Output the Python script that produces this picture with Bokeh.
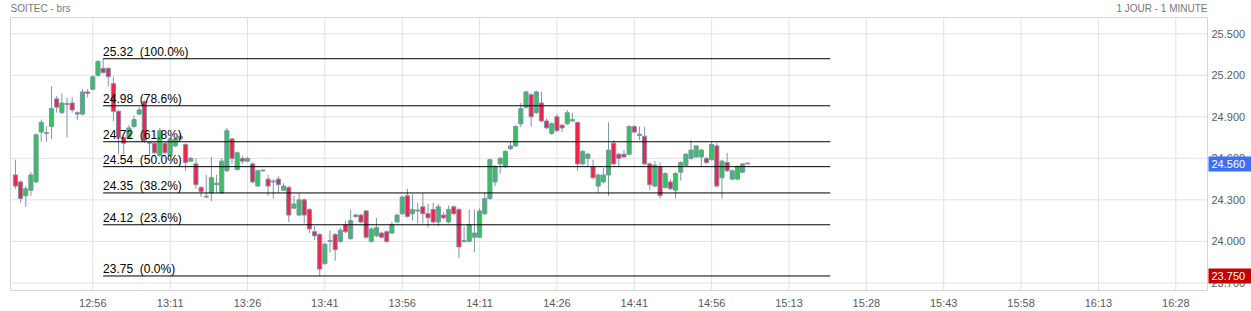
from bokeh.plotting import figure
from bokeh.models import ColumnDataSource
from bokeh.core.properties import value
from bokeh.embed import file_html
from bokeh.resources import INLINE

title_left = "SOITEC - brs"
title_right = "1 JOUR - 1 MINUTE"

# one-minute candles (index 0 = 12:41)
opens = [24.48, 24.43, 24.33, 24.37, 24.43, 24.79, 24.78, 24.83, 25.03, 24.93,
         24.99, 25.00, 24.93, 24.92, 25.08, 25.10, 25.20, 25.25, 25.25, 25.14,
         24.94, 24.75, 24.75, 24.83, 24.92, 25.01, 24.71, 24.71, 24.62, 24.71,
         24.62, 24.69, 24.74, 24.70, 24.58, 24.56, 24.39, 24.32, 24.35, 24.41,
         24.35, 24.51, 24.74, 24.52, 24.60, 24.58, 24.56, 24.40, 24.51, 24.45,
         24.43, 24.45, 24.37, 24.39, 24.24, 24.19, 24.30, 24.23, 24.07, 24.05,
         23.84, 24.00, 24.05, 24.00, 24.12, 24.02, 24.19, 24.19, 24.22, 24.00,
         24.04, 24.06, 24.07, 24.06, 24.14, 24.20, 24.33, 24.20, 24.22, 24.25,
         24.20, 24.23, 24.14, 24.19, 24.14, 24.25, 24.23, 24.00, 24.00, 24.03,
         24.03, 24.20, 24.31, 24.43, 24.56, 24.54, 24.67, 24.69, 24.85, 24.97,
         25.06, 24.93, 25.00, 24.87, 24.78, 24.90, 24.84, 24.85, 24.87, 24.86,
         24.56, 24.60, 24.54, 24.40, 24.43, 24.48, 24.71, 24.63, 24.63, 24.63,
         24.83, 24.765, 24.76, 24.56, 24.40, 24.54, 24.39, 24.43, 24.37, 24.50,
         24.55, 24.60, 24.61, 24.61, 24.60, 24.59, 24.69, 24.46, 24.57, 24.45,
         24.45, 24.50, 24.56]
highs = [24.59, 24.44, 24.40, 24.50, 24.78, 24.88, 24.83, 25.12, 25.05, 25.07,
         25.04, 25.04, 24.94, 25.10, 25.10, 25.20, 25.31, 25.32, 25.26, 25.19,
         24.95, 24.76, 24.84, 24.91, 24.97, 25.02, 24.72, 24.72, 24.82, 24.72,
         24.75, 24.75, 24.78, 24.71, 24.61, 24.60, 24.40, 24.48, 24.61, 24.48,
         24.60, 24.82, 24.75, 24.65, 24.62, 24.61, 24.57, 24.52, 24.515, 24.48,
         24.45, 24.47, 24.42, 24.40, 24.33, 24.35, 24.31, 24.24, 24.11, 24.06,
         23.99, 24.08, 24.06, 24.10, 24.15, 24.23, 24.20, 24.20, 24.225, 24.10,
         24.17, 24.07, 24.08, 24.14, 24.20, 24.33, 24.38, 24.34, 24.28, 24.35,
         24.27, 24.28, 24.27, 24.21, 24.26, 24.26, 24.24, 24.11, 24.23, 24.23,
         24.24, 24.355, 24.60, 24.55, 24.61, 24.66, 24.72, 24.84, 25.00, 25.09,
         25.07, 25.09, 25.08, 24.89, 24.86, 24.92, 24.85, 24.95, 24.93, 24.865,
         24.66, 24.64, 24.59, 24.49, 24.53, 24.86, 24.73, 24.64, 24.66, 24.84,
         24.84, 24.83, 24.83, 24.57, 24.58, 24.57, 24.50, 24.45, 24.50, 24.58,
         24.64, 24.73, 24.695, 24.67, 24.61, 24.72, 24.71, 24.59, 24.64, 24.52,
         24.55, 24.565, 24.56]
lows = [24.38, 24.28, 24.25, 24.33, 24.42, 24.72, 24.72, 24.74, 24.93, 24.92,
        24.75, 24.93, 24.88, 24.91, 25.04, 25.09, 25.19, 25.21, 25.12, 24.87,
        24.63, 24.63, 24.74, 24.82, 24.91, 24.71, 24.62, 24.63, 24.61, 24.63,
        24.61, 24.68, 24.735, 24.51, 24.575, 24.38, 24.32, 24.315, 24.29, 24.35,
        24.345, 24.50, 24.56, 24.51, 24.56, 24.575, 24.42, 24.395, 24.505, 24.33,
        24.31, 24.35, 24.365, 24.14, 24.235, 24.185, 24.13, 24.06, 24.01, 23.75,
        23.83, 23.92, 23.86, 23.99, 24.06, 24.01, 24.17, 24.13, 24.02, 23.99,
        24.03, 24.025, 23.99, 24.055, 24.135, 24.19, 24.17, 24.15, 24.13, 24.13,
        24.10, 24.13, 24.11, 24.16, 24.13, 24.19, 23.88, 23.99, 23.995, 23.92,
        24.025, 24.19, 24.30, 24.40, 24.49, 24.53, 24.66, 24.685, 24.825, 24.96,
        24.83, 24.92, 24.86, 24.81, 24.77, 24.79, 24.79, 24.84, 24.865, 24.51,
        24.55, 24.54, 24.45, 24.35, 24.42, 24.33, 24.55, 24.54, 24.605, 24.625,
        24.78, 24.73, 24.55, 24.37, 24.39, 24.31, 24.38, 24.37, 24.31, 24.44,
        24.545, 24.59, 24.605, 24.54, 24.56, 24.585, 24.39, 24.31, 24.50, 24.44,
        24.44, 24.495, 24.56]
closes = [24.40, 24.31, 24.38, 24.48, 24.77, 24.86, 24.78, 24.96, 24.97, 25.00,
          24.99, 24.95, 24.92, 25.08, 25.07, 25.19, 25.30, 25.22, 25.19, 24.94,
          24.75, 24.71, 24.82, 24.88, 24.95, 24.73, 24.71, 24.64, 24.80, 24.64,
          24.74, 24.74, 24.76, 24.57, 24.60, 24.41, 24.36, 24.32, 24.46, 24.42,
          24.58, 24.80, 24.60, 24.64, 24.58, 24.60, 24.43, 24.51, 24.51, 24.40,
          24.43, 24.41, 24.40, 24.19, 24.27, 24.30, 24.19, 24.09, 24.04, 23.80,
          23.98, 24.00, 23.94, 24.08, 24.07, 24.15, 24.18, 24.14, 24.03, 24.09,
          24.10, 24.03, 24.00, 24.12, 24.19, 24.32, 24.18, 24.23, 24.22, 24.20,
          24.17, 24.14, 24.25, 24.17, 24.23, 24.20, 23.96, 24.00, 24.12, 24.06,
          24.22, 24.31, 24.59, 24.54, 24.60, 24.65, 24.69, 24.83, 24.96, 25.08,
          24.90, 25.08, 24.87, 24.82, 24.85, 24.80, 24.82, 24.93, 24.88, 24.56,
          24.65, 24.63, 24.46, 24.48, 24.48, 24.66, 24.56, 24.60, 24.61, 24.83,
          24.79, 24.775, 24.56, 24.41, 24.55, 24.33, 24.49, 24.38, 24.49, 24.57,
          24.63, 24.66, 24.69, 24.66, 24.57, 24.70, 24.40, 24.58, 24.51, 24.51,
          24.54, 24.56, 24.56]

time_labels = ["12:56", "13:11", "13:26", "13:41", "13:56", "14:11", "14:26", "14:41",
               "14:56", "15:13", "15:28", "15:43", "15:58", "16:13", "16:28"]
price_ticks = [23.7, 24.0, 24.3, 24.6, 24.9, 25.2, 25.5]

fib_levels = [25.32, 24.98, 24.72, 24.54, 24.35, 24.12, 23.75]
fib_pcts = ["100.0%", "78.6%", "61.8%", "50.0%", "38.2%", "23.6%", "0.0%"]
fib_start = 17   # candle of the high
fib_end = 158

last_price = 24.56
low_price = 23.75

GREEN = "#37c05e"
RED = "#f0244b"
WICK = "#7f93ae"
GRID = "#e2e2e2"
FRAME = "#d6d6d6"
LABEL = "#5a5a5a"
FONT = value("Liberation Sans")

# ---- chart area (plot frame) in data units, and the margins around it in px
FX0, FX1 = -0.958, 231.15
FY0, FY1 = 23.645, 25.618
W, H = 1251, 311
ML, MR, MT, MB = 10, 44, 17, 21
sx = (W - ML - MR) / (FX1 - FX0)
sy = (H - MT - MB) / (FY1 - FY0)

p = figure(width=W, height=H, output_backend="svg", toolbar_location=None,
           x_range=(FX0 - ML / sx, FX1 + MR / sx), y_range=(FY0 - MB / sy, FY1 + MT / sy),
           x_axis_type=None, y_axis_type=None, min_border=0,
           background_fill_color="white", border_fill_color="white")
p.outline_line_color = None

# grid
xticks = [15 + 15 * k for k in range(len(time_labels))]
p.segment(x0=xticks, y0=[FY0] * len(xticks), x1=xticks, y1=[FY1] * len(xticks),
          line_color=GRID, line_width=1)
p.segment(x0=[FX0] * len(price_ticks), y0=price_ticks, x1=[FX1] * len(price_ticks),
          y1=price_ticks, line_color=GRID, line_width=1)
p.quad(left=[FX0], right=[FX1], bottom=[FY0], top=[FY1], fill_color=None,
       line_color=FRAME, line_width=1)

# axis labels
p.text(x=xticks, y=[FY0] * len(xticks), text=time_labels, y_offset=12.5,
       text_align="center", text_baseline="middle", text_font=FONT,
       text_font_size="11px", text_color=LABEL)
p.text(x=[FX1] * len(price_ticks), y=price_ticks, text=[f"{t:.3f}" for t in price_ticks],
       x_offset=4, text_align="left", text_baseline="middle", text_font=FONT,
       text_font_size="11px", text_color=LABEL)

# candles
n = len(opens)
up = [c >= o for o, c in zip(opens, closes)]
top = [max(o, c) for o, c in zip(opens, closes)]
bot = [min(o, c) for o, c in zip(opens, closes)]
top = [t if t - b > 0.006 else b + 0.006 for t, b in zip(top, bot)]  # flat candle -> dash
src = ColumnDataSource(dict(x=list(range(n)), high=highs, low=lows, top=top, bot=bot,
                            color=[GREEN if u else RED for u in up]))
p.segment(x0="x", y0="low", x1="x", y1="high", source=src, line_color=WICK, line_width=1)
p.vbar(x="x", width=0.8, top="top", bottom="bot", source=src,
       fill_color="color", line_color=WICK, line_width=1)

# fibonacci retracement
fib_src = ColumnDataSource(dict(
    x0=[fib_start] * len(fib_levels), x1=[fib_end] * len(fib_levels), y=fib_levels,
    txt=[f"{lv:.2f}\u00a0 ({pc})" for lv, pc in zip(fib_levels, fib_pcts)]))
p.segment(x0="x0", y0="y", x1="x1", y1="y", source=fib_src, line_color="black", line_width=1)
p.text(x="x0", y="y", text="txt", source=fib_src, text_baseline="bottom",
       text_align="left", text_font=FONT, text_font_size="12px", text_color="black")

# titles above the frame
title_y = FY1 + (MT - 8) / sy
p.text(x=[FX0, FX1], y=[title_y, title_y], text=[title_left, title_right],
       text_align=["left", "right"], text_baseline="middle", text_font=FONT,
       text_font_size="10px", text_color="#777777")

# price markers on the right axis
box_w = 43
box_x = FX1 + (1 + box_w / 2) / sx
marks = [last_price, low_price]
p.rect(x=[box_x] * 2, y=marks, width=box_w, height=15, width_units="screen",
       height_units="screen", fill_color=["#3b6ff5", "#c40000"], line_color=None)
p.text(x=[FX1] * 2, y=marks, text=[f"{m:.3f}" for m in marks], x_offset=4,
       text_align="left", text_baseline="middle", text_font=FONT,
       text_font_size="11px", text_color="white")

open("out.html", "w").write(file_html(p, INLINE))
